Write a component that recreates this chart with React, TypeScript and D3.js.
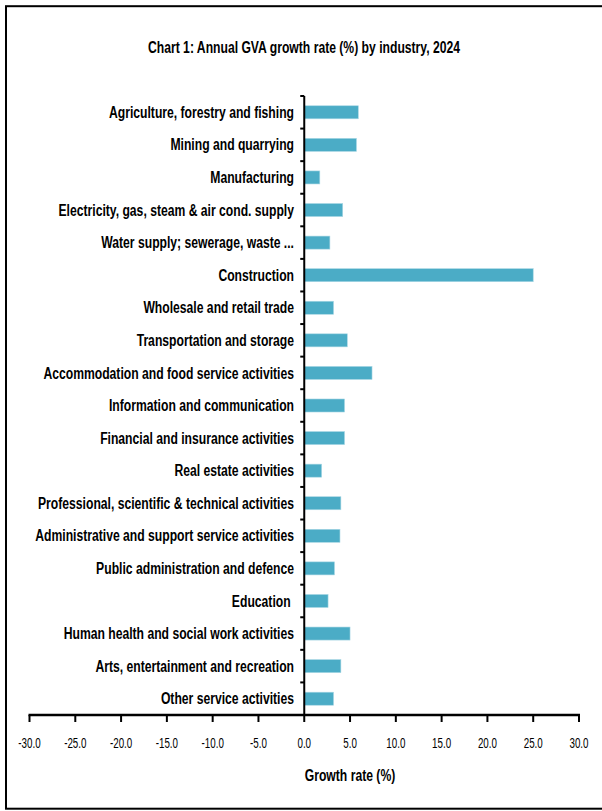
import React from "react";
import * as d3 from "d3";

const categories = [
  "Agriculture, forestry and fishing",
  "Mining and quarrying",
  "Manufacturing",
  "Electricity, gas, steam & air cond. supply",
  "Water supply; sewerage, waste ...",
  "Construction",
  "Wholesale and retail trade",
  "Transportation and storage",
  "Accommodation and food service activities",
  "Information and communication",
  "Financial and insurance activities",
  "Real estate activities",
  "Professional, scientific & technical activities",
  "Administrative and support service activities",
  "Public administration and defence",
  "Education ",
  "Human health and social work activities",
  "Arts, entertainment and recreation",
  "Other service activities",
];

const values = [5.9, 5.7, 1.7, 4.2, 2.8, 25.0, 3.2, 4.7, 7.4, 4.4, 4.4, 1.9, 4.0, 3.9, 3.3, 2.6, 5.0, 4.0, 3.2];

const xTicks = [-30, -25, -20, -15, -10, -5, 0, 5, 10, 15, 20, 25, 30];

const title = "Chart 1: Annual GVA growth rate (%) by industry, 2024";
const xTitle = "Growth rate (%)";

const FONT = "'Liberation Sans', Arial, sans-serif";

type NTProps = {
  x: number;
  y: number;
  anchor: "start" | "middle" | "end";
  size: number;
  bold?: boolean;
  sx?: number;
  children: React.ReactNode;
};

function NarrowText({ x, y, anchor, size, bold, sx = 0.76, children }: NTProps) {
  return (
    <g transform={`translate(${x},${y}) scale(${sx},1)`}>
      <text
        x={0}
        y={0}
        dy="0.35em"
        textAnchor={anchor}
        fontSize={size}
        fontWeight={bold ? "bold" : "normal"}
        fill="#000"
        style={{ whiteSpace: "pre" }}
      >
        {children}
      </text>
    </g>
  );
}

export default function App() {
  const W = 602;
  const H = 811;
  const x = d3.scaleLinear().domain([-30, 30]).range([29.5, 579]);
  const y = d3
    .scaleBand<string>()
    .domain(categories)
    .range([96, 715])
    .paddingInner(0.6)
    .paddingOuter(0.3);
  const step = y.step();
  const top = 96;
  const axisY = 715;
  const x0 = x(0);

  return (
    <div style={{ position: "absolute", left: 0, top: 0 }}>
      <svg width={W} height={H} style={{ display: "block" }} fontFamily={FONT}>
        <rect x={0} y={0} width={W} height={H} fill="#fff" />
        {/* frame */}
        <rect x={6} y={6.2} width={W + 10} height={802.5} fill="none" stroke="#000" strokeWidth={2} />
        <NarrowText x={304} y={47} anchor="middle" size={16} bold>
          {title}
        </NarrowText>
        {/* bars */}
        {categories.map((c, i) => {
          const v = values[i];
          return (
            <rect
              key={c}
              x={Math.min(x(v), x0)}
              y={y(c)!}
              width={Math.abs(x(v) - x0)}
              height={y.bandwidth()}
              fill="#4BACC6"
              stroke="#A9D7E4"
              strokeWidth={0.6}
            />
          );
        })}
        {/* category labels */}
        {categories.map((c) => (
          <NarrowText key={"l" + c} x={294} y={y(c)! + y.bandwidth() / 2} anchor="end" size={16} bold>
            {c}
          </NarrowText>
        ))}
        {/* y axis */}
        <line x1={x0} x2={x0} y1={top} y2={axisY} stroke="#000" strokeWidth={2} />
        {d3.range(categories.length + 1).map((i) => (
          <line key={"yt" + i} x1={x0 - 4} x2={x0} y1={top + i * step} y2={top + i * step} stroke="#000" strokeWidth={2} />
        ))}
        {/* x axis */}
        <line x1={x(-30) - 1} x2={x(30) + 1} y1={axisY} y2={axisY} stroke="#000" strokeWidth={2.5} />
        {xTicks.map((t) => (
          <g key={"xt" + t}>
            <line x1={x(t)} x2={x(t)} y1={axisY} y2={axisY + 7} stroke="#000" strokeWidth={2} />
            <NarrowText x={x(t)} y={743} anchor="middle" size={14} sx={0.7}>
              {t.toFixed(1)}
            </NarrowText>
          </g>
        ))}
        <NarrowText x={350} y={775} anchor="middle" size={16} bold>
          {xTitle}
        </NarrowText>
      </svg>
    </div>
  );
}
